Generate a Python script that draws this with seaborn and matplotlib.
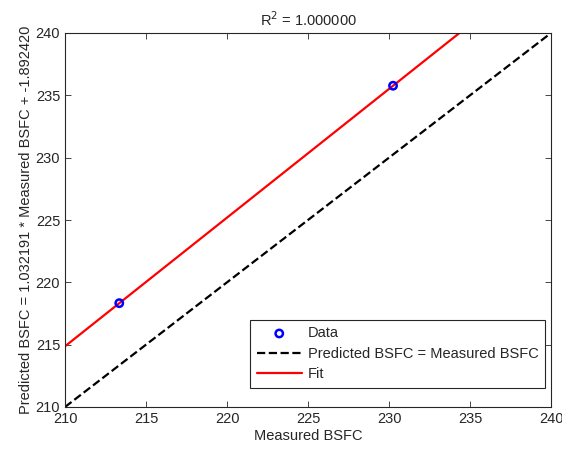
import numpy as np
import pandas as pd
import matplotlib
matplotlib.use("Agg")
import matplotlib.pyplot as plt
import seaborn as sns

# Data
measured = [213.35, 230.25]
predicted = [218.33, 235.77]
identity = [210, 240]
fit_slope = 1.032191
fit_intercept = -1.892420
title_text = "R$^2$ = 1.000000"

sns.set_style("ticks")
plt.rcParams['font.family'] = ['Liberation Sans', 'DejaVu Sans']
plt.rcParams['xtick.direction'] = 'in'
plt.rcParams['ytick.direction'] = 'in'

fs = 10.5
fig = plt.figure(figsize=(5.62, 4.49), dpi=100)
ax = fig.add_axes([65/562, 42/449, 486/562, 374/449])
ax.set_xlim(210, 240)
ax.set_ylim(210, 240)

df = pd.DataFrame({"x": measured, "y": predicted})
sns.scatterplot(data=df, x="x", y="y", ax=ax, marker="o", s=28,
                facecolor="none", edgecolor="blue", linewidth=1.8, label="Data", zorder=5)
sns.lineplot(x=identity, y=identity, ax=ax, color="black", linestyle="--",
             linewidth=1.6, label="Predicted BSFC = Measured BSFC")
fx = np.array(identity, dtype=float)
sns.lineplot(x=fx, y=np.polyval([fit_slope, fit_intercept], fx), ax=ax, color="red",
             linewidth=1.6, label="Fit")

ax.set_xlim(210, 240)
ax.set_ylim(210, 240)
ax.set_xticks([210, 215, 220, 225, 230, 235, 240])
ax.set_yticks([210, 215, 220, 225, 230, 235, 240])
ax.tick_params(top=True, right=True, labelsize=fs, colors="#262626", length=4, width=0.6)
for s in ax.spines.values():
    s.set_visible(True)
    s.set_linewidth(0.8)
    s.set_color("#262626")

ax.set_xlabel("Measured BSFC", fontsize=fs, color="#262626", labelpad=2)
ax.set_ylabel("Predicted BSFC = 1.032191 * Measured BSFC + -1.892420", fontsize=fs,
              color="#262626", labelpad=2)
ax.set_title(title_text, fontsize=fs, color="#262626", pad=5)

leg = ax.legend(loc="lower right", bbox_to_anchor=(480/486, 19/374), fontsize=fs,
                frameon=True, fancybox=False, edgecolor="#262626", framealpha=1,
                borderaxespad=0, handlelength=3.1, handletextpad=0.4,
                labelspacing=0.45, borderpad=0.45)
leg.get_frame().set_linewidth(0.8)

fig.savefig("out.png", dpi=100)
